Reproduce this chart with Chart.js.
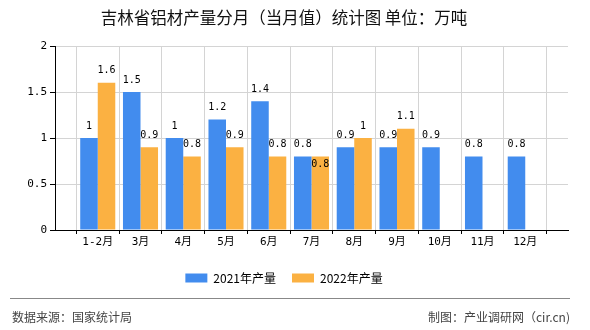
<!DOCTYPE html>
<html>
<head>
<meta charset="utf-8">
<script src="https://cdn.jsdelivr.net/npm/chart.js@4"></script>
<style>
  html, body { margin: 0; padding: 0; background: #fff; }
  #wrap { width: 590px; height: 330px; }
</style>
</head>
<body>
<div id="wrap"><canvas id="bar_chart" width="590" height="330"></canvas></div>
<script>
// data
var months = ["1-2月", "3月", "4月", "5月", "6月", "7月", "8月", "9月", "10月", "11月", "12月"];
var output2021 = [1, 1.5, 1, 1.2, 1.4, 0.8, 0.9, 0.9, 0.9, 0.8, 0.8];
var output2022 = [1.6, 0.9, 0.8, 0.9, 0.8, 0.8, 1, 1.1, null, null, null];
var yTicks = [0, 0.5, 1, 1.5, 2];

// empty slot on both ends so the months sit on the grid lines
var labels = [""].concat(months, [""]);
var pad = function (arr) { return [null].concat(arr, [null]); };

var numFont = '"DejaVu Sans Mono", "Noto Sans CJK SC", monospace';
var cjkFont = '"Noto Sans CJK SC", "DejaVu Sans", sans-serif';

var valueLabels = {
    id: 'valueLabels',
    afterDatasetsDraw: function (chart) {
        var c = chart.ctx;
        c.save();
        c.font = '10px ' + numFont;
        c.fillStyle = '#000';
        c.textAlign = 'center';
        c.textBaseline = 'middle';
        chart.data.datasets.forEach(function (ds, di) {
            chart.getDatasetMeta(di).data.forEach(function (bar, i) {
                var v = ds.data[i];
                if (v === null || v === undefined) return;
                var other = chart.data.datasets[1 - di].data[i];
                // second series label goes inside the bar when both values tie
                var y = (di === 1 && other === v) ? bar.y + 8 : bar.y - 12;
                c.fillText(String(v), bar.x, y);
            });
        });
        c.restore();
    }
};

var footer = {
    id: 'footer',
    afterDraw: function (chart) {
        var c = chart.ctx;
        c.save();
        c.strokeStyle = '#888';
        c.lineWidth = 1;
        c.beginPath();
        c.moveTo(10, 298.5);
        c.lineTo(570, 298.5);
        c.stroke();
        c.fillStyle = '#444';
        c.font = '12px ' + cjkFont;
        c.textBaseline = 'middle';
        c.textAlign = 'left';
        c.fillText('数据来源：国家统计局', 12, 317);
        c.textAlign = 'right';
        c.fillText('制图：产业调研网（cir.cn)', 570, 317);
        c.restore();
    }
};

var ctx = document.getElementById("bar_chart");

var myBarChart = new Chart(ctx, {
    type: 'bar',
    data: {
        labels: labels,
        datasets: [
            {
                label: "2021年产量",
                data: pad(output2021),
                backgroundColor: "#428CEE",
                categoryPercentage: 0.82,
                barPercentage: 1.0
            },
            {
                label: "2022年产量",
                data: pad(output2022),
                backgroundColor: "#FBB142",
                categoryPercentage: 0.82,
                barPercentage: 1.0
            }
        ]
    },
    options: {
        responsive: false,
        animation: false,
        layout: { padding: { top: 0, right: 22, bottom: 36, left: 0 } },
        plugins: {
            title: {
                display: true,
                text: '吉林省铝材产量分月（当月值）统计图 单位：万吨',
                color: '#111',
                font: { family: cjkFont, size: 16.5, weight: 'normal' },
                padding: { top: 8, bottom: 18.2 }
            },
            legend: {
                position: 'bottom',
                labels: {
                    boxWidth: 22,
                    boxHeight: 9,
                    padding: 16,
                    color: '#000',
                    font: { family: cjkFont, size: 12 }
                }
            },
            tooltip: { enabled: false }
        },
        scales: {
            x: {
                offset: false,
                grid: { color: '#d4d4d4', tickColor: '#000', tickLength: 4 },
                border: { color: '#000' },
                ticks: {
                    autoSkip: false,
                    maxRotation: 0,
                    color: '#000',
                    padding: 2,
                    font: { family: numFont, size: 11 }
                },
                afterFit: function (scale) { scale.height = 26; }
            },
            y: {
                min: 0,
                max: 2,
                afterBuildTicks: function (scale) {
                    scale.ticks = yTicks.map(function (v) { return { value: v }; });
                },
                grid: { color: '#d4d4d4', tickColor: '#000', tickLength: 5 },
                border: { color: '#000' },
                ticks: {
                    color: '#000',
                    padding: 3,
                    font: { family: numFont, size: 11 },
                    callback: function (v) { return String(v); }
                },
                afterFit: function (scale) { scale.width = 55; }
            }
        }
    },
    plugins: [valueLabels, footer]
});
</script>
</body>
</html>
